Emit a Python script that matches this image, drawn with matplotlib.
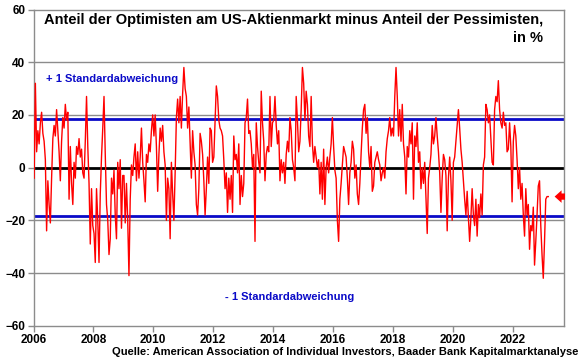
import matplotlib.pyplot as plt

plt.rcParams['font.family'] = ['Liberation Sans', 'DejaVu Sans']
plt.rcParams['font.weight'] = 'bold'

# Bull-bear spread (AAII), two readings per month
v2006 = [-4, 32, 6, 14, 9, 17, 21, 13, 10, 3, -24, -5, -14, -21, -4, 11, 16, 12, 22, 14, 6, -5, 10, 19]
v2007 = [15, 24, 18, 21, -12, 8, -6, -14, 2, -4, 8, 5, 11, 4, 7, -2, -4, 10, 27, 8, -6, -29, -8, -22]
v2008 = [-25, -36, -8, -20, -36, -10, 4, 15, 27, 5, -14, -20, -33, -27, -4, -10, -1, -18, -27, 2, -8, 3, -23, -3]
v2009 = [-3, -21, -6, -20, -41, -12, 1, -3, 4, 9, -5, 6, -4, 4, 15, 2, -5, -13, 5, 2, 9, 6, 14, 20]
v2010 = [12, 20, 8, -9, 5, 15, 10, 16, 6, 1, -20, -4, -8, -27, 2, -10, -20, -2, 19, 26, 17, 27, 15, 28]
v2011 = [38, 30, 27, 15, 23, 10, -4, 14, 6, 1, -14, -18, -8, 13, 10, 5, -5, -18, -8, 4, -6, 15, 14, 2]
v2012 = [4, 17, 31, 27, 18, 15, 14, 12, 3, -8, -2, -17, -4, -12, -3, -17, 12, 3, 5, -2, 9, -14, -3, -11]
v2013 = [-6, 17, 19, 26, 13, 14, 9, 0, 5, -28, 17, 8, 2, -2, 29, 17, 10, -5, 5, 8, 6, 27, 8, 17]
v2014 = [18, 27, 16, 9, 14, -5, 3, -2, 2, -6, 5, 10, 6, 19, 14, 3, 0, -5, 27, 18, 6, 10, 22, 38]
v2015 = [32, 18, 29, 24, 12, 8, 27, 9, 2, 8, 4, 0, 3, -10, 2, -12, 7, -14, 0, 4, -2, 4, 9, 19]
v2016 = [8, -1, -4, -20, -28, -12, -6, 1, 8, 6, 4, -4, -14, -2, 2, 10, 7, -4, 1, -10, -14, -6, 5, 15]
v2017 = [22, 24, 13, 19, 6, 0, 8, -9, -7, 2, 4, 6, 3, 1, -5, -2, 0, -4, 6, 11, 14, 19, 12, 15]
v2018 = [12, 27, 38, 27, 12, 22, 10, 24, 9, 4, -10, 8, 4, 14, 9, 17, -12, 12, 8, 17, 2, 6, -8, 0]
v2019 = [-6, 2, -12, -25, -4, 0, 5, 16, 9, 12, 19, 12, 6, -2, -17, -4, 5, 3, -3, -24, -4, 4, -5, -20]
v2020 = [2, 4, 10, 16, 22, 15, 7, 2, -5, -12, -18, -9, -19, -28, -19, -8, -18, -22, -12, -26, -14, -19, -10, -18]
v2021 = [1, 4, 24, 22, 17, 20, 11, 2, 1, 22, 27, 25, 33, 22, 17, 15, 21, 16, 17, 6, 7, 17, 8, -13]
v2022 = [10, 16, 12, 3, -8, 0, -12, -6, -18, -26, -8, -18, -14, -31, -22, -24, -15, -37, -28, -18, -7, -5, -22, -33]
v2023 = [-42, -28, -12, -11, -11]

years = list(range(2006, 2024))
by_year = [v2006, v2007, v2008, v2009, v2010, v2011, v2012, v2013, v2014,
           v2015, v2016, v2017, v2018, v2019, v2020, v2021, v2022, v2023]

std_dev = 18.3  # +/- 1 standard deviation band

# decimal year for each reading
t = []
spread = []
for yr, vals in zip(years, by_year):
    for i, v in enumerate(vals):
        t.append(yr + (i + 0.5) / 24)
        spread.append(v)

fig = plt.figure(figsize=(5.8, 3.59), dpi=100)
ax = fig.add_axes([33.5 / 580, 1 - 325.7 / 359, 530 / 580, 316.2 / 359])

for g in [-40, -20, 20, 40]:
    ax.axhline(g, color='#8c8c8c', lw=1, zorder=1)
ax.axhline(std_dev, color='#0a0ac8', lw=2, zorder=2)
ax.axhline(-std_dev, color='#0a0ac8', lw=2, zorder=2)
ax.axhline(0, color='black', lw=2, zorder=2)

ax.plot(t, spread, color='#ff0000', lw=1, zorder=3)

ax.set_xlim(2006, 2006 + 530 / 29.95)
ax.set_ylim(-60, 60)
ax.set_xticks(range(2006, 2023, 2))
ax.set_yticks(range(-60, 61, 20))
ax.tick_params(direction='out', length=4, width=1, color='#8c8c8c', labelsize=8.5, pad=2)
for s in ax.spines.values():
    s.set_color('#8c8c8c')
    s.set_linewidth(1)

ax.text(2006.42, 33.5, '+ 1 Standardabweichung', color='#0a0ac8', fontsize=8,
        ha='left', va='center')
ax.text(2014.56, -49, '- 1 Standardabweichung', color='#0a0ac8', fontsize=8,
        ha='center', va='center')

fig.text(543 / 580, 1 - 20 / 359,
         'Anteil der Optimisten am US-Aktienmarkt minus Anteil der Pessimisten,',
         fontsize=10.5, ha='right', va='center')
fig.text(543 / 580, 1 - 38 / 359, 'in %', fontsize=10.5, ha='right', va='center')

# arrow marking the latest reading
ax.annotate('', xy=(0.978, spread[-1]), xycoords=('axes fraction', 'data'),
            xytext=(1.008, spread[-1]), textcoords=('axes fraction', 'data'),
            arrowprops=dict(arrowstyle='simple,head_length=0.5,head_width=0.9,tail_width=0.45',
                            color='#ff0000', lw=0), annotation_clip=False)

fig.text(578 / 580, 1 - 352 / 359,
         'Quelle: American Association of Individual Investors, Baader Bank Kapitalmarktanalyse',
         fontsize=8, ha='right', va='center')

fig.savefig('out.png', dpi=100)
